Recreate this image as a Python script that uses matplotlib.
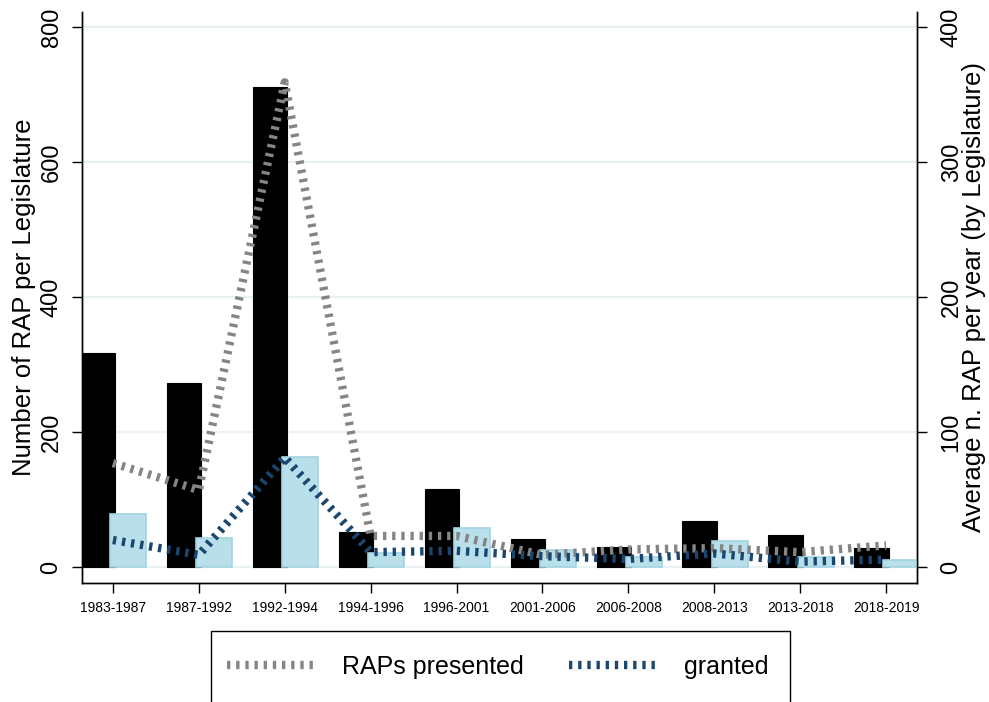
import matplotlib.pyplot as plt
import numpy as np
from matplotlib.patches import Rectangle

plt.rcParams['font.family'] = ['Liberation Sans', 'DejaVu Sans']

# legislatures and RAP counts
legislatures = ['1983-1987', '1987-1992', '1992-1994', '1994-1996', '1996-2001',
                '2001-2006', '2006-2008', '2008-2013', '2013-2018', '2018-2019']
raps_total = [317, 273, 711, 52, 115, 42, 29, 68, 48, 28]
granted_total = [78, 43, 163, 21, 58, 25, 15, 38, 15, 10]
raps_per_year = [77, 57, 359, 23, 23, 9, 13, 14, 11, 16]
granted_per_year = [20, 9, 81, 11, 12, 8, 6, 10, 4, 5.5]

gray = '#858585'
navy = '#1a476f'
ltblue = '#b9dfea'

fig = plt.figure(figsize=(9.89, 7.02), dpi=100)
ax1 = fig.add_axes([0.0829, 0.1695, 0.8443, 0.8135])
x = np.arange(len(legislatures))

# bars (left axis)
ax1.bar(x - 0.17, raps_total, width=0.40, color='black', edgecolor='black', lw=0.8, zorder=2)
ax1.bar(x + 0.18, granted_total, width=0.42, color=ltblue, edgecolor='#a3d3e2', lw=1.2, zorder=3)
ax1.set_xlim(-0.36, 9.36)
ax1.set_ylim(-23.7, 822.2)
ax1.set_yticks([0, 200, 400, 600, 800])
ax1.set_xticks(x)
ax1.set_xticklabels(legislatures, fontsize=10)
ax1.tick_params(axis='x', length=7, width=1, pad=6)
ax1.tick_params(axis='y', length=7, width=1, pad=7, labelsize=17, labelrotation=90)
for lab in ax1.get_yticklabels():
    lab.set_va('center')
ax1.yaxis.grid(True, color='#e8f1f3', lw=1.6, zorder=0)
ax1.set_axisbelow(True)
ax1.set_ylabel('Number of RAP per Legislature', fontsize=18.5, va='center')
ax1.yaxis.set_label_coords(-0.069, 0.5)

# lines (right axis)
ax2 = ax1.twinx()
ax2.plot(x, raps_per_year, color=gray, lw=6, dashes=(0.4, 0.7), label='RAPs presented')
ax2.plot(x, granted_per_year, color=navy, lw=6, dashes=(0.4, 0.7), label='granted')
ax2.set_ylim(-11.85, 411.1)
ax2.set_yticks([0, 100, 200, 300, 400])
ax2.tick_params(axis='y', length=7, width=1, pad=10, labelsize=17, labelrotation=90)
for lab in ax2.get_yticklabels():
    lab.set_va('center')
ax2.set_ylabel('Average n. RAP per year (by Legislature)', fontsize=18.5, va='center')
ax2.yaxis.set_label_coords(1.0683, 0.5)

for a in (ax1, ax2):
    a.spines['top'].set_visible(False)
    for s in ('left', 'right', 'bottom'):
        a.spines[s].set_linewidth(1)

# legend below the plot, box runs off the bottom edge
handles, labels = ax2.get_legend_handles_labels()
fig.legend(handles, labels, loc='center', bbox_to_anchor=(0.5035, 0.05), ncol=2,
           frameon=False, fontsize=18, handlelength=3.6, handletextpad=1.0,
           columnspacing=1.8)
fig.patches.append(Rectangle((211 / 989, -0.05), (790 - 211) / 989, 0.05 + 71 / 702,
                             transform=fig.transFigure, fill=False, ec='black', lw=1))

fig.savefig('out.png', dpi=100)
